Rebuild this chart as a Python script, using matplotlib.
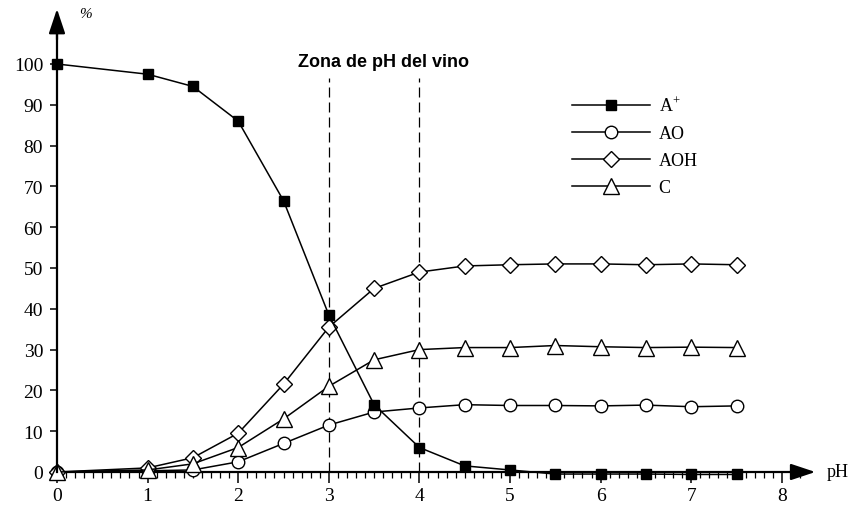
import matplotlib
matplotlib.use("Agg")
import matplotlib.pyplot as plt
from matplotlib.ticker import FixedLocator

plt.rcParams['font.family'] = ['Liberation Serif', 'DejaVu Serif']
plt.rcParams['mathtext.fontset'] = 'custom'
plt.rcParams['mathtext.rm'] = 'Liberation Serif'

ph = [0, 1, 1.5, 2, 2.5, 3, 3.5, 4, 4.5, 5, 5.5, 6, 6.5, 7, 7.5]
a_plus = [100, 97.5, 94.5, 86, 66.5, 38.5, 16.5, 6, 1.5, 0.5, -0.5, -0.5, -0.5, -0.6, -0.6]
ao = [0, 0.3, 0.5, 2.5, 7, 11.5, 14.7, 15.7, 16.5, 16.3, 16.3, 16.2, 16.4, 16.0, 16.2]
aoh = [0, 1, 3.5, 9.5, 21.5, 35.5, 45, 49, 50.5, 50.8, 51, 51, 50.8, 51, 50.8]
c = [0, 0.5, 2, 6, 13, 21, 27.5, 30, 30.5, 30.5, 31, 30.7, 30.5, 30.6, 30.5]
labels = [r"A$^{+}$", "AO", "AOH", "C"]
zone = [3, 4]
zone_label = "Zona de pH del vino"

W, H = 849, 510
fig = plt.figure(figsize=(W / 100, H / 100), dpi=100)
ax = fig.add_axes([0, 0, 1, 1])
ax.patch.set_visible(False)

x0px, pxu = 57, 90.6
y0px, pyu = 473, 4.08
ax.set_xlim(-x0px / pxu, (W - x0px) / pxu)
ax.set_ylim(-(H - y0px) / pyu, y0px / pyu)

lw = 1.1
ax.plot(ph, a_plus, '-', color='black', lw=lw, marker='s', ms=7, mfc='black', mec='black', label=labels[0], zorder=5)
ax.plot(ph, ao, '-', color='black', lw=lw, marker='o', ms=9, mfc='white', mec='black', mew=1, label=labels[1], zorder=4)
ax.plot(ph, aoh, '-', color='black', lw=lw, marker='D', ms=8, mfc='white', mec='black', mew=1, label=labels[2], zorder=4)
ax.plot(ph, c, '-', color='black', lw=lw, marker='^', ms=12, mfc='white', mec='black', mew=1, label=labels[3], zorder=4)

for z in zone:
    ax.plot([z, z], [0, 96.5], color='black', lw=0.9, ls=(0, (8, 4)), zorder=2)
ax.text(3.6, 100.7, zone_label, ha='center', va='center', fontsize=13,
        fontweight='bold', family=['Liberation Sans', 'DejaVu Sans'])

for s in ['top', 'right']:
    ax.spines[s].set_visible(False)
ax.spines['left'].set_position(('data', 0))
ax.spines['bottom'].set_position(('data', 0))
ax.spines['left'].set_bounds(0, 108)
ax.spines['bottom'].set_bounds(0, 8.2)
ax.spines['left'].set_linewidth(1.6)
ax.spines['bottom'].set_linewidth(1.6)
ax.spines['left'].set_zorder(6)
ax.spines['bottom'].set_zorder(3)

ax.annotate('', xy=(0, 113.5), xytext=(0, 106), annotation_clip=False,
            arrowprops=dict(arrowstyle='-|>,head_length=1.5,head_width=0.5', color='black', lw=1.6, shrinkA=0, shrinkB=0))
ax.annotate('', xy=(8.37, 0), xytext=(8.1, 0), annotation_clip=False,
            arrowprops=dict(arrowstyle='-|>,head_length=1.5,head_width=0.5', color='black', lw=1.6, shrinkA=0, shrinkB=0))

ax.set_xticks(range(0, 9))
minor = [i / 10 for i in range(1, 83) if i % 10 != 0]
ax.xaxis.set_minor_locator(FixedLocator(minor))
ax.set_yticks(range(0, 101, 10))
ax.tick_params(axis='x', which='major', direction='out', length=8, width=1.1, labelsize=14, pad=3)
ax.tick_params(axis='x', which='minor', direction='out', length=4, width=0.9)
ax.tick_params(axis='y', which='major', direction='out', length=5, width=1.1, labelsize=14, pad=5)

ax.text(8.5, 0, "pH", ha='left', va='center', fontsize=13)
ax.text(0.31, 112.3, "%", ha='center', va='center', fontsize=11, fontstyle='italic')

leg = ax.legend(loc='upper left', bbox_to_anchor=(572 / W, 1 - 97 / H), bbox_transform=fig.transFigure,
                frameon=False, fontsize=13, handlelength=4.3, handletextpad=0.5,
                labelspacing=0.55, borderpad=0, borderaxespad=0)

fig.savefig("out.png", dpi=100)
